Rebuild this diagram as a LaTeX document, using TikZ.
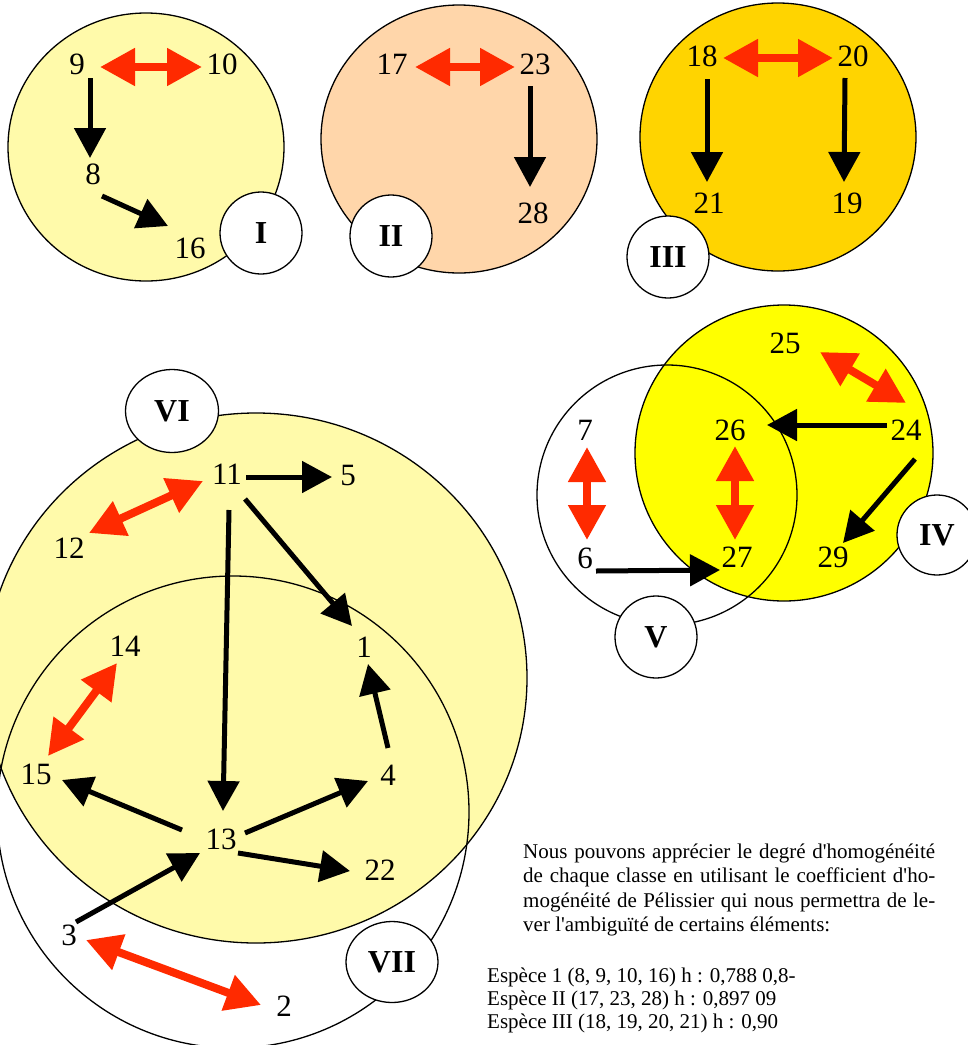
\documentclass[tikz,border=0pt]{standalone}
\usepackage{fontspec}
\setmainfont{Liberation Serif}
\usetikzlibrary{arrows.meta,shapes.geometric}
\definecolor{lyel}{HTML}{FFFAAA}
\definecolor{peach}{HTML}{FFD6AA}
\definecolor{goldc}{HTML}{FFD400}
\definecolor{yelc}{HTML}{FFFF00}
\definecolor{arrc}{HTML}{FF2A00}
\begin{document}
\begin{tikzpicture}[x=1pt,y=-1pt,
  num/.style={inner sep=0pt,font=\fontsize{31}{31}\selectfont},
  lab/.style={ellipse,draw,line width=1.3pt,fill=white,inner sep=0pt,
    minimum width=82pt,minimum height=82pt,font=\bfseries\fontsize{32}{32}\selectfont},
  ring/.style={line width=1.3pt},
  blk/.style={line width=5pt,-{Triangle[length=30pt,width=31pt]}},
  redarr/.style={arrc,line width=8pt,{Triangle[length=35pt,width=36pt]}-{Triangle[length=35pt,width=36pt]}},
  txt/.style={inner sep=0pt,font=\fontsize{21}{23}\selectfont}]
\useasboundingbox (0,0) rectangle (968,1045);
% ---- big regions ----
\draw[ring,fill=lyel] (146,147) ellipse [x radius=138pt,y radius=134pt];
\draw[ring,fill=peach] (459,139) ellipse [x radius=138pt,y radius=134pt];
\draw[ring,fill=goldc] (778,137) ellipse [x radius=138pt,y radius=134pt];
\draw[ring,fill=yelc] (784,453) ellipse [x radius=149pt,y radius=148pt];
\draw[ring] (667,495) circle [radius=130pt];
\draw[ring,fill=lyel] (256,678) ellipse [x radius=271pt,y radius=265pt];
\draw[ring] (233,812) circle [radius=236pt];
% ---- class labels ----
\node[lab] (LI) at (261,233) {I};
\node[lab] (LII) at (391,236) {II};
\node[lab] (LIII) at (668,257) {III};
\node[lab,minimum width=80pt,minimum height=80pt] (LIV) at (937,535) {IV};
\node[lab] (LV) at (656,637) {V};
\node[lab,minimum width=93pt,minimum height=83pt] (LVI) at (172,411) {VI};
\node[lab,minimum width=92pt,minimum height=81pt] (LVII) at (392,962) {VII};
% ---- numbers ----
\node[num] (n9) at (77,64) {9};
\node[num] (n10) at (222,64) {10};
\node[num] (n8) at (93,174) {8};
\node[num] (n16) at (190,248) {16};
\node[num] (n17) at (392,64) {17};
\node[num] (n23) at (535,64) {23};
\node[num] (n28) at (533,213) {28};
\node[num] (n18) at (702,56) {18};
\node[num] (n20) at (853,56) {20};
\node[num] (n21) at (709,203) {21};
\node[num] (n19) at (847,203) {19};
\node[num] (n25) at (785,343) {25};
\node[num] (n26) at (730,430) {26};
\node[num] (n24) at (906,430) {24};
\node[num] (n7) at (585,430) {7};
\node[num] (n6) at (585,558) {6};
\node[num] (n27) at (737,557) {27};
\node[num] (n29) at (833,557) {29};
\node[num] (n11) at (227,474) {11};
\node[num] (n5) at (348,475) {5};
\node[num] (n12) at (69,548) {12};
\node[num] (n1) at (364,647) {1};
\node[num] (n14) at (125,646) {14};
\node[num] (n15) at (36,774) {15};
\node[num] (n4) at (388,775) {4};
\node[num] (n13) at (221,839) {13};
\node[num] (n22) at (380,870) {22};
\node[num] (n3) at (69,935) {3};
\node[num] (n2) at (284,1006) {2};
% ---- class I ----
\draw[redarr] ([shift={(23,3)}]n9.center) -- ([shift={(-20,3)}]n10.center);
\draw[blk] ([shift={(13,14)}]n9.center) -- ([shift={(-3,-16)}]n8.center);
\draw[blk] ([shift={(9,22)}]n8.center) -- ([shift={(-22,-22)}]n16.center);
% ---- class II ----
\draw[redarr] ([shift={(23,3)}]n17.center) -- ([shift={(-20,3)}]n23.center);
\draw[blk] ([shift={(-5,22)}]n23.center) -- ([shift={(-3,-26)}]n28.center);
% ---- class III ----
\draw[redarr] ([shift={(21,2)}]n18.center) -- ([shift={(-20,2)}]n20.center);
\draw[blk] ([shift={(5,23)}]n18.center) -- ([shift={(-2,-21)}]n21.center);
\draw[blk] ([shift={(-8,22)}]n20.center) -- ([shift={(-3,-21)}]n19.center);
% ---- classes IV, V ----
\draw[redarr] ([shift={(35,9)}]n25.center) -- ([shift={(0,-27)}]n24.center);
\draw[blk] ([shift={(-19,-5)}]n24.center) -- ([shift={(37,-5)}]n26.center);
\draw[redarr] ([shift={(5,16)}]n26.center) -- ([shift={(-2,-17)}]n27.center);
\draw[blk] ([shift={(9,29)}]n24.center) -- ([shift={(10,-14)}]n29.center);
\draw[redarr] ([shift={(2,17)}]n7.center) -- ([shift={(2,-18)}]n6.center);
\draw[blk] ([shift={(11,13)}]n6.center) -- ([shift={(-17,13)}]n27.center);
% ---- classes VI, VII ----
\draw[redarr] ([shift={(20,-15)}]n12.center) -- ([shift={(-24,7)}]n11.center);
\draw[blk] ([shift={(19,3)}]n11.center) -- ([shift={(-16,2)}]n5.center);
\draw[blk] ([shift={(18,25)}]n11.center) -- ([shift={(-12,-21)}]n1.center);
\draw[blk] ([shift={(2,36)}]n11.center) -- ([shift={(2,-28)}]n13.center);
\draw[redarr] ([shift={(-8,17)}]n14.center) -- ([shift={(12,-18)}]n15.center);
\draw[blk] ([shift={(-39,-9)}]n13.center) -- ([shift={(26,6)}]n15.center);
\draw[blk] ([shift={(24,-6)}]n13.center) -- ([shift={(-20,6)}]n4.center);
\draw[blk] ([shift={(0,-27)}]n4.center) -- ([shift={(4,17)}]n1.center);
\draw[blk] ([shift={(17,14)}]n13.center) -- ([shift={(-30,1)}]n22.center);
\draw[blk] ([shift={(7,-13)}]n3.center) -- ([shift={(-21,14)}]n13.center);
\draw[redarr] ([shift={(17,5)}]n3.center) -- ([shift={(-23,-1)}]n2.center);
% ---- text ----
\node[txt,anchor=base west] (p1) at (523,858) {\makebox[412pt][s]{Nous pouvons apprécier le degré d\textquotesingle homogénéité}};
\node[txt,anchor=base west] (p2) at (523,882) {\makebox[412pt][s]{de chaque classe en utilisant le coefficient d\textquotesingle ho-}};
\node[txt,anchor=base west] (p3) at (523,907) {\makebox[412pt][s]{mogénéité de Pélissier qui nous permettra de le-}};
\node[txt,anchor=base west] (p4) at (523,931) {ver l\textquotesingle ambiguïté de certains éléments:};
\node[txt,anchor=base west] (e1) at (487,982) {Espèce 1 (8, 9, 10, 16) h : 0,788 0,8-};
\node[txt,anchor=base west] (e2) at (487,1005) {Espèce II (17, 23, 28) h : 0,897 09};
\node[txt,anchor=base west] (e3) at (487,1028) {Espèce III (18, 19, 20, 21) h : 0,90};
\end{tikzpicture}
\end{document}
